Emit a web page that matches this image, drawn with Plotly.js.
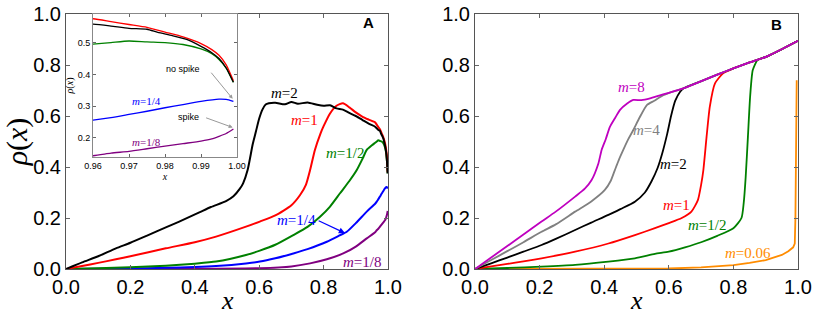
<!DOCTYPE html>
<html>
<head>
<meta charset="utf-8">
<script src="https://cdn.plot.ly/plotly-3.0.1.min.js"></script>
<style>
  body { margin: 0; background: #fff; }
  #plot { width: 822px; height: 329px; }
</style>
</head>
<body>
<div id="plot"></div>
<script>
// panel A
const aM2x = [0, 0.05, 0.1, 0.155, 0.2, 0.25, 0.31, 0.35, 0.414, 0.45, 0.497, 0.52, 0.54, 0.55, 0.564, 0.58, 0.59, 0.6, 0.61, 0.62, 0.63, 0.65, 0.68, 0.7, 0.72, 0.75, 0.78, 0.8, 0.82, 0.84, 0.86, 0.88, 0.9, 0.92, 0.94, 0.96, 0.965, 0.97, 0.975, 0.978, 0.982, 0.986, 0.99, 0.993, 0.995, 0.997, 0.999];
const aM2y = [0, 0.026, 0.05, 0.081, 0.103, 0.13, 0.163, 0.185, 0.222, 0.243, 0.266, 0.285, 0.315, 0.336, 0.388, 0.49, 0.54, 0.59, 0.625, 0.645, 0.65, 0.652, 0.646, 0.655, 0.648, 0.653, 0.644, 0.64, 0.642, 0.63, 0.625, 0.612, 0.6, 0.585, 0.57, 0.558, 0.552, 0.545, 0.542, 0.532, 0.522, 0.51, 0.488, 0.468, 0.45, 0.42, 0.375];

const aM1x = [0, 0.05, 0.1, 0.155, 0.2, 0.31, 0.4, 0.466, 0.559, 0.602, 0.65, 0.7, 0.727, 0.745, 0.758, 0.773, 0.79, 0.8, 0.82, 0.84, 0.86, 0.88, 0.9, 0.92, 0.94, 0.96, 0.965, 0.97, 0.975, 0.98, 0.985, 0.99, 0.993, 0.995, 0.997, 0.999];
const aM1y = [0, 0.012, 0.024, 0.038, 0.05, 0.081, 0.105, 0.127, 0.166, 0.186, 0.21, 0.25, 0.29, 0.33, 0.388, 0.467, 0.53, 0.56, 0.61, 0.64, 0.65, 0.634, 0.614, 0.598, 0.586, 0.575, 0.566, 0.557, 0.548, 0.533, 0.518, 0.497, 0.478, 0.46, 0.43, 0.38];

const aM12x = [0, 0.1, 0.2, 0.31, 0.4, 0.466, 0.559, 0.602, 0.65, 0.706, 0.75, 0.789, 0.82, 0.851, 0.88, 0.903, 0.92, 0.934, 0.95, 0.96, 0.965, 0.97, 0.975, 0.98, 0.985, 0.99, 0.993, 0.995, 0.997, 0.999];
const aM12y = [0, 0.003, 0.007, 0.013, 0.021, 0.029, 0.055, 0.072, 0.095, 0.133, 0.165, 0.205, 0.245, 0.297, 0.345, 0.388, 0.43, 0.467, 0.485, 0.495, 0.5, 0.505, 0.502, 0.5, 0.494, 0.48, 0.465, 0.447, 0.42, 0.375];

const aM14x = [0, 0.2, 0.31, 0.4, 0.466, 0.559, 0.602, 0.65, 0.706, 0.75, 0.81, 0.85, 0.872, 0.9, 0.934, 0.96, 0.965, 0.97, 0.975, 0.98, 0.985, 0.99, 0.995, 0.997, 0.999];
const aM14y = [0, 0.002, 0.005, 0.008, 0.012, 0.022, 0.029, 0.042, 0.061, 0.078, 0.107, 0.132, 0.146, 0.18, 0.225, 0.256, 0.264, 0.274, 0.284, 0.295, 0.305, 0.315, 0.322, 0.321, 0.315];

const aM18x = [0, 0.3, 0.45, 0.602, 0.7, 0.758, 0.81, 0.861, 0.9, 0.934, 0.96, 0.965, 0.97, 0.975, 0.98, 0.985, 0.99, 0.993, 0.995, 0.997, 0.999];
const aM18y = [0, 0.0005, 0.001, 0.003, 0.01, 0.022, 0.038, 0.061, 0.088, 0.12, 0.144, 0.152, 0.158, 0.166, 0.174, 0.182, 0.19, 0.197, 0.205, 0.214, 0.228];

// panel B
const bM8x = [0, 0.05, 0.1, 0.15, 0.206, 0.25, 0.31, 0.34, 0.361, 0.382, 0.392, 0.405, 0.418, 0.435, 0.449, 0.47, 0.49, 0.515, 0.542, 0.57, 0.594, 0.645, 0.697, 0.75, 0.8, 0.85, 0.903, 0.95, 1.0];
const bM8y = [0, 0.045, 0.09, 0.135, 0.186, 0.225, 0.284, 0.315, 0.349, 0.414, 0.467, 0.51, 0.558, 0.595, 0.624, 0.648, 0.663, 0.662, 0.669, 0.68, 0.689, 0.708, 0.735, 0.762, 0.787, 0.81, 0.833, 0.862, 0.895];

const bM4x = [0, 0.05, 0.1, 0.15, 0.206, 0.25, 0.31, 0.36, 0.402, 0.42, 0.433, 0.446, 0.459, 0.475, 0.49, 0.51, 0.532, 0.555, 0.583, 0.61, 0.645, 0.697, 0.75, 0.8, 0.85, 0.903, 0.95, 1.0];
const bM4y = [0, 0.035, 0.07, 0.105, 0.146, 0.175, 0.225, 0.265, 0.31, 0.345, 0.388, 0.43, 0.467, 0.51, 0.545, 0.595, 0.643, 0.66, 0.682, 0.695, 0.708, 0.735, 0.762, 0.787, 0.81, 0.833, 0.862, 0.895];

const bM2x = [0, 0.05, 0.1, 0.15, 0.206, 0.25, 0.31, 0.36, 0.413, 0.45, 0.495, 0.526, 0.547, 0.565, 0.58, 0.595, 0.607, 0.62, 0.635, 0.645, 0.697, 0.75, 0.8, 0.85, 0.903, 0.95, 1.0];
const bM2y = [0, 0.022, 0.045, 0.068, 0.094, 0.118, 0.153, 0.182, 0.212, 0.235, 0.264, 0.3, 0.345, 0.395, 0.455, 0.53, 0.6, 0.66, 0.695, 0.708, 0.735, 0.762, 0.787, 0.81, 0.833, 0.862, 0.895];

const bM1x = [0, 0.05, 0.1, 0.15, 0.206, 0.31, 0.413, 0.495, 0.557, 0.6, 0.64, 0.67, 0.69, 0.7, 0.707, 0.717, 0.727, 0.743, 0.768, 0.8, 0.85, 0.903, 0.95, 1.0];
const bM1y = [0, 0.01, 0.02, 0.03, 0.042, 0.068, 0.1, 0.133, 0.16, 0.18, 0.2, 0.225, 0.27, 0.33, 0.388, 0.519, 0.637, 0.728, 0.767, 0.787, 0.81, 0.833, 0.862, 0.895];

const bM12x = [0, 0.1, 0.206, 0.31, 0.413, 0.495, 0.557, 0.6, 0.65, 0.7, 0.75, 0.8, 0.825, 0.832, 0.838, 0.845, 0.852, 0.86, 0.875, 0.903, 0.95, 1.0];
const bM12y = [0, 0.004, 0.009, 0.016, 0.029, 0.042, 0.059, 0.068, 0.085, 0.105, 0.13, 0.16, 0.2, 0.26, 0.36, 0.52, 0.68, 0.78, 0.82, 0.833, 0.862, 0.895];

const bM006x = [0, 0.5, 0.6, 0.7, 0.8, 0.85, 0.9, 0.95, 0.97, 0.985, 0.99, 0.992, 0.994, 0.996];
const bM006y = [0, 0.0005, 0.002, 0.006, 0.015, 0.024, 0.035, 0.055, 0.07, 0.085, 0.1, 0.2, 0.5, 0.74];

const tickVals = [0, 0.2, 0.4, 0.6, 0.8, 1.0];
const insetXTicks = [0.96, 0.97, 0.98, 0.99, 1.0];
const insetYTicks = [0.2, 0.3, 0.4, 0.5];

const serif = 'Liberation Serif, Times New Roman, serif';
const sans = 'Liberation Sans, Arial, sans-serif';

function line(x, y, color, xa, ya, w, shape) {
    return { x: x, y: y, mode: 'lines', type: 'scatter', xaxis: xa, yaxis: ya,
             line: { color: color, width: w, shape: shape || 'spline', smoothing: 0.6 }, hoverinfo: 'skip' };
}

const data = [
    line(aM18x, aM18y, '#800080', 'x', 'y', 2),
    line(aM14x, aM14y, '#0000ff', 'x', 'y', 2),
    line(aM12x, aM12y, '#008000', 'x', 'y', 2),
    line(aM1x, aM1y, '#ff0000', 'x', 'y', 2),
    line(aM2x, aM2y, '#000000', 'x', 'y', 2),

    line(aM18x, aM18y, '#800080', 'x3', 'y3', 1.3),
    line(aM14x, aM14y, '#0000ff', 'x3', 'y3', 1.3),
    line(aM12x, aM12y, '#008000', 'x3', 'y3', 1.3),
    line(aM1x, aM1y, '#ff0000', 'x3', 'y3', 1.3),
    line(aM2x, aM2y, '#000000', 'x3', 'y3', 1.3),

    line(bM006x, bM006y, '#ff8c00', 'x2', 'y2', 1.8, 'linear'),
    line(bM12x, bM12y, '#008000', 'x2', 'y2', 1.8),
    line(bM1x, bM1y, '#ff0000', 'x2', 'y2', 1.8),
    line(bM2x, bM2y, '#000000', 'x2', 'y2', 1.8),
    line(bM4x, bM4y, '#808080', 'x2', 'y2', 1.8),
    line(bM8x, bM8y, '#bf00bf', 'x2', 'y2', 1.8)
];

const mainAxis = {
    range: [0, 1], tickvals: tickVals, tickformat: '.1f',
    ticks: 'inside', ticklen: 4, tickcolor: '#666',
    showline: true, linecolor: '#555', linewidth: 1, mirror: 'ticks',
    showgrid: false, zeroline: false,
    tickfont: { family: sans, size: 20, color: '#000' }
};

function ann(text, x, y, xref, yref, color, size, extra) {
    return Object.assign({ text: text, x: x, y: y, xref: xref, yref: yref,
        showarrow: false, font: { family: serif, size: size, color: color } }, extra || {});
}

const annotations = [
    ann('<i>x</i>', 0.5, -0.125, 'x domain', 'paper', '#000', 26, { yanchor: 'middle' }),
    ann('<i>x</i>', 0.5, -0.125, 'x2 domain', 'paper', '#000', 26, { yanchor: 'middle' }),

    ann('<i>m</i>=2', 0.68, 0.69, 'x', 'y', '#000', 15),
    ann('<i>m</i>=1', 0.742, 0.584, 'x', 'y', '#ff0000', 15),
    ann('<i>m</i>=1/2', 0.866, 0.455, 'x', 'y', '#008000', 15),
    ann('<i>m</i>=1/4', 0.717, 0.192, 'x', 'y', '#0000ff', 15),
    { x: 0.866, y: 0.141, xref: 'x', yref: 'y', ax: 0.78, ay: 0.192, axref: 'x', ayref: 'y',
      text: '', showarrow: true, arrowhead: 2, arrowsize: 1, arrowwidth: 1.2, arrowcolor: '#0000ff' },
    ann('<i>m</i>=1/8', 0.92, 0.027, 'x', 'y', '#800080', 15),
    ann('<b>A</b>', 0.94, 0.965, 'x', 'y', '#000', 15, { font: { family: sans, size: 15, color: '#000' } }),

    ann('no spike', 0.985, 0.417, 'x3', 'y3', '#000', 9, { font: { family: sans, size: 9, color: '#000' } }),
    { x: 0.9988, y: 0.323, xref: 'x3', yref: 'y3', ax: 0.9925, ay: 0.41, axref: 'x3', ayref: 'y3',
      text: '', showarrow: true, arrowhead: 2, arrowsize: 0.8, arrowwidth: 1, arrowcolor: '#999' },
    ann('spike', 0.9864, 0.265, 'x3', 'y3', '#000', 9, { font: { family: sans, size: 9, color: '#000' } }),
    { x: 0.9988, y: 0.233, xref: 'x3', yref: 'y3', ax: 0.991, ay: 0.265, axref: 'x3', ayref: 'y3',
      text: '', showarrow: true, arrowhead: 2, arrowsize: 0.8, arrowwidth: 1, arrowcolor: '#999' },
    ann('<i>m</i>=1/4', 0.9749, 0.316, 'x3', 'y3', '#0000ff', 11),
    ann('<i>m</i>=1/8', 0.9749, 0.186, 'x3', 'y3', '#800080', 11),

    ann('<i>m</i>=8', 0.485, 0.712, 'x2', 'y2', '#bf00bf', 15),
    ann('<i>m</i>=4', 0.531, 0.545, 'x2', 'y2', '#808080', 15),
    ann('<i>m</i>=2', 0.614, 0.41, 'x2', 'y2', '#000', 15),
    ann('<i>m</i>=1', 0.624, 0.251, 'x2', 'y2', '#ff0000', 15),
    ann('<i>m</i>=1/2', 0.717, 0.172, 'x2', 'y2', '#008000', 15),
    ann('<i>m</i>=0.06', 0.846, 0.061, 'x2', 'y2', '#ff8c00', 15),
    ann('<b>B</b>', 0.934, 0.957, 'x2', 'y2', '#000', 15, { font: { family: sans, size: 15, color: '#000' } })
];

const layout = {
    width: 822, height: 329,
    margin: { l: 0, r: 0, t: 14, b: 60 },
    paper_bgcolor: '#fff', plot_bgcolor: '#fff',
    showlegend: false,
    xaxis: Object.assign({}, mainAxis, { domain: [66 / 822, 388 / 822], anchor: 'y' }),
    yaxis: Object.assign({}, mainAxis, { domain: [0, 1], anchor: 'x',
        title: { text: '<i>ρ</i>(<i>x</i>)', font: { family: serif, size: 30, color: '#000' }, standoff: 4 } }),
    xaxis2: Object.assign({}, mainAxis, { domain: [475 / 822, 798 / 822], anchor: 'y2' }),
    yaxis2: Object.assign({}, mainAxis, { domain: [0, 1], anchor: 'x2' }),
    xaxis3: {
        domain: [93 / 822, 237 / 822], anchor: 'y3', range: [0.96, 1.0],
        tickvals: insetXTicks, tickformat: '.2f',
        ticks: 'inside', ticklen: 3, tickcolor: '#666',
        showline: true, linecolor: '#888', linewidth: 1, mirror: 'ticks',
        showgrid: false, zeroline: false,
        tickfont: { family: sans, size: 9, color: '#000' },
        title: { text: '<i>x</i>', font: { family: serif, size: 10, color: '#000' }, standoff: 0 }
    },
    yaxis3: {
        domain: [(269 - 157) / 255, 1], anchor: 'x3', range: [0.14, 0.59],
        tickvals: insetYTicks, tickformat: '.1f',
        ticks: 'inside', ticklen: 3, tickcolor: '#666',
        showline: true, linecolor: '#888', linewidth: 1, mirror: 'ticks',
        showgrid: false, zeroline: false,
        tickfont: { family: sans, size: 9, color: '#000' },
        title: { text: '<i>ρ</i>(<i>x</i>)', font: { family: serif, size: 10, color: '#000' }, standoff: 2 }
    },
    annotations: annotations
};

Plotly.newPlot('plot', data, layout, { staticPlot: true });
</script>
</body>
</html>
